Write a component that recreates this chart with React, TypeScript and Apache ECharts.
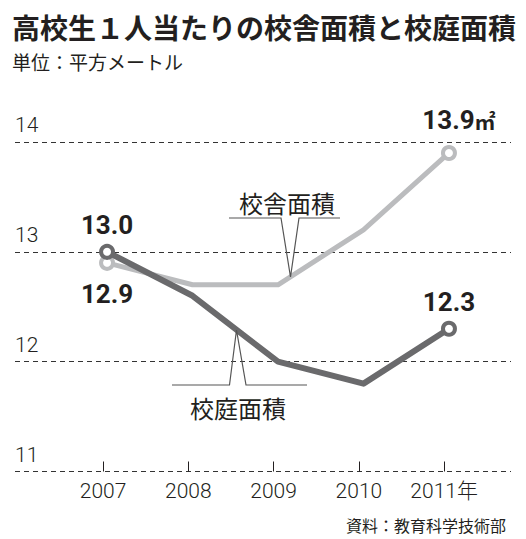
import React, { useEffect, useRef } from 'react';
import * as echarts from 'echarts';

const years = ['2007', '2008', '2009', '2010', '2011'];
const yearLabels = ['2007', '2008', '2009', '2010', '2011年'];
const schoolBuilding = [12.9, 12.7, 12.7, 13.2, 13.9];
const schoolYard = [13.0, 12.6, 12.0, 11.8, 12.3];
const yMin = 11;
const yMax = 14;
const yInterval = 1;

const titleText = '高校生１人当たりの校舎面積と校庭面積';
const unitText = '単位：平方メートル';
const sourceText = '資料：教育科学技術部';
const buildingName = '校舎面積';
const yardName = '校庭面積';
const areaUnit = '㎡';

const NARROW = "'Liberation Sans Narrow', Roboto, 'Noto Sans CJK JP', sans-serif";
const CJK = "'Noto Sans CJK JP', 'Noto Sans', sans-serif";
const INK = '#231f20';
const LIGHT = '#bbbcbe';
const DARK = '#6a6a6c';

export default function App() {
  const ref = useRef<HTMLDivElement>(null);

  useEffect(() => {
    if (!ref.current) return;
    const chart = echarts.init(ref.current, undefined, { renderer: 'svg' });

    const valueLabel = (position: string, distance: number, extra: any = {}) => ({
      show: true,
      position,
      distance,
      color: INK,
      fontFamily: NARROW,
      fontWeight: 'bold',
      fontSize: 26,
      ...extra,
    });

    const buildingData = schoolBuilding.map((v, i) => {
      if (i === 0) return { value: v, label: valueLabel('bottom', 10) };
      if (i === schoolBuilding.length - 1)
        return {
          value: v,
          label: valueLabel('top', 12, {
            formatter: (p: any) => `{v|${Number(p.value).toFixed(1)}}{u|${areaUnit}}`,
            offset: [10, 0],
            rich: {
              v: { fontFamily: NARROW, fontWeight: 'bold', fontSize: 26, color: INK },
              u: { fontFamily: CJK, fontWeight: 'bold', fontSize: 21, color: INK },
            },
          }),
        };
      return { value: v, symbol: 'none' };
    });

    const yardData = schoolYard.map((v, i) => {
      if (i === 0) return { value: v, label: valueLabel('top', 6) };
      if (i === schoolYard.length - 1) return { value: v, label: valueLabel('top', 6) };
      return { value: v, symbol: 'none' };
    });

    const fmt = (p: any) => Number(p.value).toFixed(1);

    const option: any = {
      animation: false,
      backgroundColor: '#ffffff',
      title: [
        {
          text: titleText,
          left: 7,
          top: 8,
          textStyle: { fontFamily: CJK, fontWeight: 'bold', fontSize: 28, color: INK },
        },
        {
          text: unitText,
          left: 7,
          top: 47,
          textStyle: { fontFamily: CJK, fontWeight: 'normal', fontSize: 19, color: INK },
        },
        {
          text: sourceText,
          right: 15,
          top: 512,
          textStyle: { fontFamily: CJK, fontWeight: 'normal', fontSize: 16, color: INK },
        },
      ],
      grid: [
        { left: 15, right: 15, top: 142, bottom: 67.5 },
        { left: 60.4, right: 39.2, top: 142, bottom: 67.5 },
        { left: 64.3, right: 34.3, top: 142, bottom: 67.5 },
      ],
      xAxis: [
        { gridIndex: 0, type: 'value', min: 0, max: 1, show: false },
        {
          gridIndex: 1,
          type: 'category',
          data: yearLabels,
          boundaryGap: true,
          axisLine: { show: false },
          axisTick: {
            show: true,
            alignWithLabel: true,
            inside: true,
            length: 10,
            lineStyle: { color: INK, width: 1 },
          },
          axisLabel: {
            interval: 0,
            fontFamily: NARROW,
            fontWeight: 300,
            fontSize: 21,
            color: INK,
            margin: 19,
            verticalAlign: 'middle',
          },
        },
        { gridIndex: 2, type: 'category', data: years, boundaryGap: true, show: false },
      ],
      yAxis: [
        {
          gridIndex: 0,
          type: 'value',
          min: yMin,
          max: yMax,
          interval: yInterval,
          axisLine: { show: false },
          axisTick: { show: false },
          splitLine: { show: true, lineStyle: { type: [5, 4], color: '#333333', width: 1 } },
          axisLabel: {
            inside: true,
            align: 'left',
            verticalAlign: 'bottom',
            lineHeight: 34,
            margin: 0,
            fontFamily: NARROW,
            fontWeight: 300,
            fontSize: 21,
            color: INK,
          },
        },
        { gridIndex: 1, type: 'value', min: yMin, max: yMax, interval: yInterval, show: false },
        { gridIndex: 2, type: 'value', min: yMin, max: yMax, interval: yInterval, show: false },
      ],
      series: [
        {
          name: buildingName,
          type: 'line',
          xAxisIndex: 2,
          yAxisIndex: 2,
          data: buildingData,
          symbol: 'circle',
          symbolSize: 12,
          showAllSymbol: true,
          lineStyle: { color: LIGHT, width: 5, cap: 'round', join: 'round' },
          itemStyle: { color: '#ffffff', borderColor: LIGHT, borderWidth: 4 },
          label: { show: false, formatter: fmt },
          emphasis: { disabled: true },
          z: 3,
        },
        {
          name: yardName,
          type: 'line',
          xAxisIndex: 2,
          yAxisIndex: 2,
          data: yardData,
          symbol: 'circle',
          symbolSize: 12,
          showAllSymbol: true,
          lineStyle: { color: DARK, width: 6, cap: 'round', join: 'round' },
          itemStyle: { color: '#ffffff', borderColor: DARK, borderWidth: 4 },
          label: { show: false, formatter: fmt },
          emphasis: { disabled: true },
          z: 4,
        },
      ],
      graphic: [
        {
          type: 'polyline',
          shape: { points: [[229, 218], [281, 218], [290.5, 277], [299, 218], [340, 218]] },
          style: { stroke: '#555555', lineWidth: 1.2, fill: 'none' },
          z: 10,
        },
        {
          type: 'text',
          x: 287,
          y: 202,
          style: {
            text: buildingName,
            fontFamily: CJK,
            fontSize: 24,
            fill: INK,
            align: 'center',
            verticalAlign: 'middle',
          },
          z: 10,
        },
        {
          type: 'polyline',
          shape: { points: [[172, 385], [229.5, 385], [236.5, 330], [246, 385], [307, 385]] },
          style: { stroke: '#555555', lineWidth: 1.2, fill: 'none' },
          z: 10,
        },
        {
          type: 'text',
          x: 238,
          y: 407,
          style: {
            text: yardName,
            fontFamily: CJK,
            fontSize: 24,
            fill: INK,
            align: 'center',
            verticalAlign: 'middle',
          },
          z: 10,
        },
      ],
    };

    chart.setOption(option);
    return () => chart.dispose();
  }, []);

  return (
    <div
      ref={ref}
      style={{ position: 'fixed', left: 0, top: 0, width: 526, height: 539, background: '#fff' }}
    />
  );
}
